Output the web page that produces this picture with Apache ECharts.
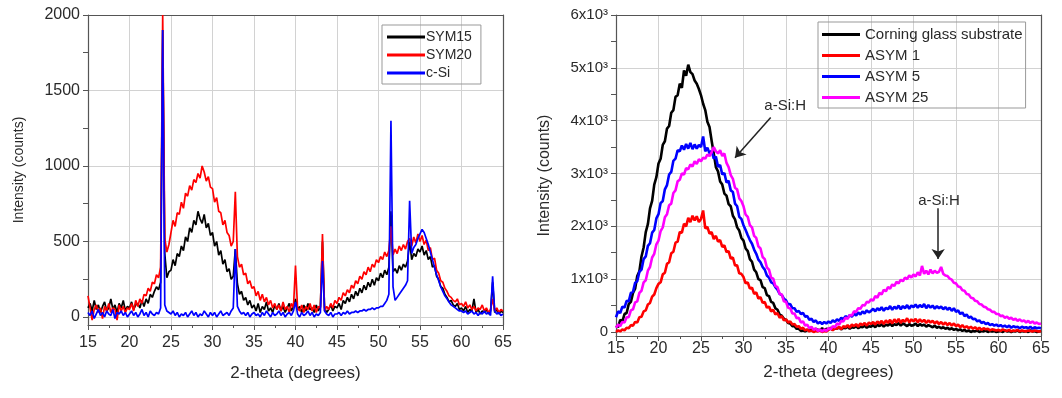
<!DOCTYPE html>
<html>
<head>
<meta charset="utf-8">
<script src="https://cdn.jsdelivr.net/npm/echarts@6/dist/echarts.min.js"></script>
<style>
html,body{margin:0;padding:0;background:#fff;}
#chart{width:1062px;height:398px;}
</style>
</head>
<body>
<div id="chart"></div>
<script>
// ---- data (2-theta sampled from 15 to 65 in 0.25 degree steps) ----
const thetaStart = 15;
const thetaStep = 0.25;

// Left panel: counts
const sym15 = [
 60,90,40,110,50,80,30,70,100,40,60,120,50,80,30,90,60,110,40,70,
 60,100,50,80,90,60,110,70,120,90,150,130,170,200,180,230,1900,420,260,300,
 310,380,340,420,400,470,440,530,500,590,560,640,610,700,650,620,680,590,620,540,
 560,470,500,410,440,350,380,300,320,250,270,450,220,150,170,110,130,80,110,60,
 80,40,90,30,70,50,100,40,60,30,80,50,90,40,70,30,60,90,40,70,
 120,50,70,30,80,40,90,50,60,30,80,40,70,500,60,30,50,80,40,70,
 60,90,50,110,90,130,100,150,120,170,140,190,160,210,180,230,200,250,210,260,
 240,290,260,310,280,330,700,300,320,290,340,310,350,330,370,500,380,420,400,450,
 430,470,410,440,380,400,330,340,270,250,200,190,150,130,100,110,80,70,90,50,
 60,40,70,30,50,40,120,30,50,20,40,30,50,20,40,230,30,50,20,40,
 30
];
const sym20 = [
 140,60,-20,50,80,30,60,-10,70,40,90,30,60,50,-20,80,40,70,30,60,
 50,90,40,110,70,120,90,150,140,190,170,230,220,280,260,330,2000,520,430,480,
 560,640,600,690,680,760,720,820,800,870,840,910,890,950,920,1000,960,900,930,860,
 850,760,790,700,690,610,640,560,540,470,500,830,400,330,350,280,290,220,240,190,
 200,140,170,110,150,100,130,80,110,60,90,50,80,40,100,50,70,30,90,60,
 340,60,40,80,30,70,50,90,40,80,30,70,60,550,40,70,50,90,60,110,
 90,130,110,160,140,180,160,210,190,240,220,270,250,300,280,330,300,350,330,380,
 360,400,380,430,400,440,600,410,450,420,470,440,480,450,500,520,470,530,490,550,
 500,540,480,510,440,460,380,390,310,290,240,230,190,170,140,130,110,100,120,80,
 90,70,100,60,80,50,70,40,60,50,80,40,60,30,50,120,40,60,30,50,
 40
];
const cSi = [
 30,10,40,-10,20,50,10,30,0,40,20,10,50,-10,30,20,40,10,30,0,
 20,40,10,30,0,20,50,10,30,0,40,20,10,30,20,60,1900,80,40,30,
 20,40,10,30,0,20,10,30,0,20,40,10,30,0,20,10,40,20,0,30,
 10,30,0,20,40,10,20,30,10,40,60,450,70,40,20,30,10,30,0,20,
 30,10,20,0,30,10,40,20,0,30,10,20,40,10,30,0,20,30,10,40,
 100,20,0,30,10,20,40,10,30,0,20,10,30,370,40,20,10,30,0,20,
 20,30,10,30,20,40,20,30,30,40,30,40,40,50,40,50,50,60,50,60,
 60,70,70,90,110,150,1300,200,110,130,150,170,190,210,240,770,420,460,480,520,
 550,580,560,520,480,430,380,330,280,240,200,170,140,120,100,80,70,60,50,40,
 40,30,40,20,30,40,20,30,10,30,20,40,20,30,10,270,40,20,30,10,
 20
];

// Right panel: counts
const corning = [
 120,90,230,200,340,360,530,570,740,820,1060,1150,1430,1600,1890,2040,2340,2480,2790,2930,
 3190,3280,3540,3610,3850,3900,4150,4200,4450,4480,4700,4620,4950,4850,5060,4920,4880,4760,4700,4600,
 4480,4320,4200,3980,3880,3620,3380,3120,3040,2850,2790,2620,2580,2420,2380,2200,2130,1980,1920,1780,
 1730,1580,1530,1380,1330,1180,1130,1000,980,850,830,700,680,570,550,450,420,330,310,250,
 230,170,160,110,110,60,60,20,30,10,40,20,50,30,60,40,30,70,40,60,
 50,80,40,70,60,90,50,80,70,100,60,90,80,110,70,100,90,120,80,110,
 100,130,90,140,110,150,100,140,120,160,110,150,130,170,120,160,140,110,150,120,
 130,160,110,150,120,140,100,130,110,90,120,80,100,70,90,60,80,50,70,40,
 60,30,50,20,40,10,30,0,20,10,30,0,20,10,30,0,20,10,20,0,
 10,20,0,30,10,20,0,20,10,30,0,20,10,20,0,30,10,20,0,10,
 20
];
const asym1 = [
 0,30,10,50,30,80,70,130,120,190,180,280,290,390,410,520,550,670,710,830,
 910,940,1090,1120,1290,1320,1490,1520,1690,1710,1890,1880,2050,2000,2160,2080,2200,2110,2190,2080,
 2140,2300,1960,1990,1860,1890,1760,1820,1710,1740,1610,1640,1510,1530,1390,1410,1260,1260,1110,1100,
 1040,920,940,820,840,720,750,630,660,550,570,460,480,390,420,330,360,270,300,220,
 240,180,200,140,150,100,110,60,80,30,50,10,30,0,20,10,30,0,20,10,
 40,70,30,80,60,100,50,110,90,130,80,140,110,150,100,160,130,170,120,180,
 150,190,140,200,160,210,150,220,170,230,160,240,180,250,170,230,190,260,180,240,
 200,250,180,240,190,230,170,220,180,210,160,200,150,190,140,180,130,170,120,160,
 110,140,90,130,80,110,70,100,60,90,50,80,40,70,50,60,30,50,40,30,
 40,20,50,30,20,40,10,30,20,40,10,30,20,10,30,20,10,30,20,10,
 20
];
const asym5 = [
 280,390,360,480,460,590,580,740,760,930,960,1140,1180,1380,1430,1630,1680,1880,1930,2150,
 2230,2440,2480,2700,2780,2980,3030,3240,3280,3440,3420,3530,3450,3560,3470,3580,3460,3550,3470,3540,
 3500,3700,3420,3490,3380,3430,3280,3320,3130,3160,2980,3010,2830,2860,2680,2650,2430,2380,2180,2140,
 2020,1930,1830,1740,1670,1560,1480,1370,1320,1230,1180,1070,1030,940,920,850,800,720,700,630,
 600,520,530,450,450,380,400,340,360,290,300,230,250,190,220,160,190,150,190,160,
 200,170,220,190,240,210,270,240,300,270,320,290,350,310,370,330,390,350,410,370,
 400,440,390,450,410,470,400,460,430,490,420,480,440,500,430,490,450,510,440,500,
 470,520,460,510,470,530,450,510,460,500,440,490,450,480,430,470,420,460,400,450,
 380,410,340,370,300,330,270,290,240,250,200,220,170,190,150,170,130,150,120,140,
 110,130,100,120,90,120,80,110,90,100,70,100,80,90,70,100,60,90,70,80,
 70
];
const asym25 = [
 80,140,110,190,180,280,280,410,430,560,580,740,780,940,980,1160,1230,1410,1480,1660,
 1730,1910,1980,2170,2230,2400,2430,2630,2680,2850,2880,3000,2980,3100,3080,3170,3130,3230,3180,3270,
 3230,3300,3280,3360,3330,3400,3500,3420,3380,3440,3330,3380,3200,3120,2970,2900,2730,2700,2530,2480,
 2380,2220,2180,2020,1980,1820,1780,1620,1580,1420,1380,1220,1180,1030,1010,870,850,720,710,580,
 570,460,450,350,350,260,270,180,200,120,140,70,100,40,70,20,50,10,50,20,
 70,50,110,90,160,140,210,200,270,250,320,310,390,380,450,440,510,500,570,560,
 620,590,680,650,740,710,800,770,850,820,900,870,950,920,990,960,1030,1000,1070,1030,
 1090,1050,1130,1070,1250,1100,1160,1090,1180,1110,1160,1120,1140,1230,1100,1070,1060,1010,990,930,
 920,860,850,790,780,720,710,650,640,590,580,530,520,480,470,430,420,380,380,340,
 340,300,310,270,290,250,270,230,250,210,240,200,220,180,210,170,200,160,180,150,
 160
];

// Tick values
const leftYTicks = [0, 500, 1000, 1500, 2000];
const leftYMinorTicks = [0, 250, 500, 750, 1000, 1250, 1500, 1750, 2000];
const rightYTicks = [0, 1000, 2000, 3000, 4000, 5000, 6000];
const rightYMinorTicks = [0, 500, 1000, 1500, 2000, 2500, 3000, 3500, 4000, 4500, 5000, 5500, 6000];
const rightYLabels = ['0', '1x10³', '2x10³', '3x10³', '4x10³', '5x10³', '6x10³'];

// Annotations (right panel)
const annoText = 'a-Si:H';
const anno1Text = [34.9, 4280];
const anno1Arrow = [[33.2, 4060], [29.0, 3300]];
const anno2Text = [53.0, 2490];
const anno2Arrow = [[52.9, 2340], [52.9, 1380]];

// ---- chart ----
const FONT = "'Liberation Sans', Arial, sans-serif";
const TXT = '#2a2a2a';
const AXC = '#555';
const GRIDC = '#d2d2d2';

function pts(arr) { return arr.map((v, i) => [thetaStart + i * thetaStep, v]); }

const chart = echarts.init(document.getElementById('chart'), null, {renderer: 'canvas'});

function bottomX(gridIndex, labelMargin, nameGap) {
  return {
    type: 'value', gridIndex: gridIndex, min: 15, max: 65, interval: 5,
    position: 'bottom',
    name: '2-theta (degrees)', nameLocation: 'middle', nameGap: nameGap,
    nameTextStyle: {fontFamily: FONT, fontSize: 17, color: TXT},
    axisLine: {show: true, onZero: false, lineStyle: {color: AXC, width: 1.2}},
    axisTick: {show: true, length: 5, lineStyle: {color: AXC}},
    minorTick: {show: true, splitNumber: 2, length: 3, lineStyle: {color: AXC}},
    axisLabel: {fontFamily: FONT, fontSize: 16, color: TXT, margin: labelMargin},
    splitLine: {show: true, lineStyle: {color: GRIDC, width: 1}}
  };
}
function topX(gridIndex) {
  return {
    type: 'value', gridIndex: gridIndex, min: 15, max: 65, interval: 5, position: 'top',
    axisLine: {show: true, onZero: false, lineStyle: {color: AXC, width: 1.2}},
    axisTick: {show: false}, axisLabel: {show: false}, splitLine: {show: false}
  };
}

const option = {
  animation: false,
  backgroundColor: '#fff',
  grid: [
    {left: 88, right: 1062 - 503, top: 15, bottom: 398 - 325, containLabel: false},
    {left: 616, right: 1062 - 1041, top: 15, bottom: 398 - 336, containLabel: false}
  ],
  xAxis: [
    bottomX(0, 10, 40),
    topX(0),
    bottomX(1, 5, 28),
    topX(1)
  ],
  yAxis: [
    {
      type: 'value', gridIndex: 0, min: -53, max: 2000, position: 'left',
      name: 'Intensity (counts)', nameLocation: 'middle', nameGap: 62,
      nameTextStyle: {fontFamily: FONT, fontSize: 14, color: TXT},
      axisLine: {show: true, onZero: false, lineStyle: {color: AXC, width: 1.2}},
      axisTick: {show: true, length: 5, customValues: leftYMinorTicks, lineStyle: {color: AXC}},
      axisLabel: {fontFamily: FONT, fontSize: 16, color: TXT, margin: 8, customValues: leftYTicks,
        formatter: function (v) { return String(v); }},
      splitLine: {show: false}
    },
    {
      type: 'value', gridIndex: 0, min: -53, max: 2000, position: 'right',
      axisLine: {show: true, onZero: false, lineStyle: {color: AXC, width: 1.2}},
      axisTick: {show: false, customValues: leftYTicks},
      axisLabel: {show: false, customValues: leftYTicks},
      splitLine: {show: true, lineStyle: {color: GRIDC, width: 1}}
    },
    {
      type: 'value', gridIndex: 1, min: -76, max: 6000, position: 'left',
      name: 'Intensity (counts)', nameLocation: 'middle', nameGap: 63,
      nameTextStyle: {fontFamily: FONT, fontSize: 16, color: TXT},
      axisLine: {show: true, onZero: false, lineStyle: {color: AXC, width: 1.2}},
      axisTick: {show: true, length: 5, customValues: rightYMinorTicks, lineStyle: {color: AXC}},
      axisLabel: {
        fontFamily: FONT, fontSize: 15, color: TXT, margin: 8, customValues: rightYTicks,
        formatter: function (v) { const k = rightYTicks.indexOf(v); return k >= 0 ? rightYLabels[k] : ''; }
      },
      splitLine: {show: false}
    },
    {
      type: 'value', gridIndex: 1, min: -76, max: 6000, position: 'right',
      axisLine: {show: true, onZero: false, lineStyle: {color: AXC, width: 1.2}},
      axisTick: {show: false, customValues: rightYTicks},
      axisLabel: {show: false, customValues: rightYTicks},
      splitLine: {show: true, lineStyle: {color: GRIDC, width: 1}}
    }
  ],
  legend: [
    {
      data: ['SYM15', 'SYM20', 'c-Si'], orient: 'vertical', left: 382, top: 25,
      icon: 'rect', itemWidth: 38, itemHeight: 3, itemGap: 4,
      borderColor: '#999', borderWidth: 1, borderRadius: 0, padding: [5, 9, 4, 5],
      textStyle: {fontFamily: FONT, fontSize: 14, color: TXT, padding: [0, 0, 0, -4]}
    },
    {
      data: ['Corning glass substrate', 'ASYM 1', 'ASYM 5', 'ASYM 25'], orient: 'vertical', left: 818, top: 22,
      icon: 'rect', itemWidth: 38, itemHeight: 3, itemGap: 6,
      borderColor: '#999', borderWidth: 1, borderRadius: 0, padding: [5, 3, 3, 4],
      textStyle: {fontFamily: FONT, fontSize: 15, color: TXT, padding: [0, 0, 0, 0]}
    }
  ],
  series: [
    {name: 'SYM15', type: 'line', xAxisIndex: 0, yAxisIndex: 0, data: pts(sym15), showSymbol: false, lineStyle: {color: '#000', width: 1.7}, itemStyle: {color: '#000'}},
    {name: 'SYM20', type: 'line', xAxisIndex: 0, yAxisIndex: 0, data: pts(sym20), showSymbol: false, lineStyle: {color: '#ff0000', width: 1.7}, itemStyle: {color: '#ff0000'}},
    {name: 'c-Si', type: 'line', xAxisIndex: 0, yAxisIndex: 0, data: pts(cSi), showSymbol: false, lineStyle: {color: '#0000ff', width: 1.7}, itemStyle: {color: '#0000ff'}},
    {name: 'Corning glass substrate', type: 'line', xAxisIndex: 2, yAxisIndex: 2, data: pts(corning), showSymbol: false, lineStyle: {color: '#000', width: 2.6}, itemStyle: {color: '#000'}},
    {name: 'ASYM 1', type: 'line', xAxisIndex: 2, yAxisIndex: 2, data: pts(asym1), showSymbol: false, lineStyle: {color: '#ff0000', width: 2.6}, itemStyle: {color: '#ff0000'}},
    {name: 'ASYM 5', type: 'line', xAxisIndex: 2, yAxisIndex: 2, data: pts(asym5), showSymbol: false, lineStyle: {color: '#0000ff', width: 2.6}, itemStyle: {color: '#0000ff'}},
    {
      name: 'ASYM 25', type: 'line', xAxisIndex: 2, yAxisIndex: 2, data: pts(asym25), showSymbol: false,
      lineStyle: {color: '#ff00ff', width: 2.6}, itemStyle: {color: '#ff00ff'},
      markLine: {
        silent: true, symbol: ['none', 'arrow'], symbolSize: 10, precision: 2,
        lineStyle: {color: '#222', width: 1.5, type: 'solid'},
        itemStyle: {color: '#222'},
        label: {show: false},
        emphasis: {disabled: true},
        data: [
          [{coord: anno1Arrow[0], symbol: 'none'}, {coord: anno1Arrow[1], symbol: 'arrow', symbolSize: 10}],
          [{coord: anno2Arrow[0], symbol: 'none'}, {coord: anno2Arrow[1], symbol: 'arrow', symbolSize: 10}]
        ]
      },
      markPoint: {
        silent: true, symbol: 'circle', symbolSize: 1, itemStyle: {color: 'rgba(0,0,0,0)'},
        label: {show: true, position: 'inside', formatter: annoText, fontFamily: FONT, fontSize: 15, color: TXT},
        data: [{coord: anno1Text}, {coord: anno2Text}]
      }
    }
  ]
};
chart.setOption(option);
</script>
</body>
</html>
